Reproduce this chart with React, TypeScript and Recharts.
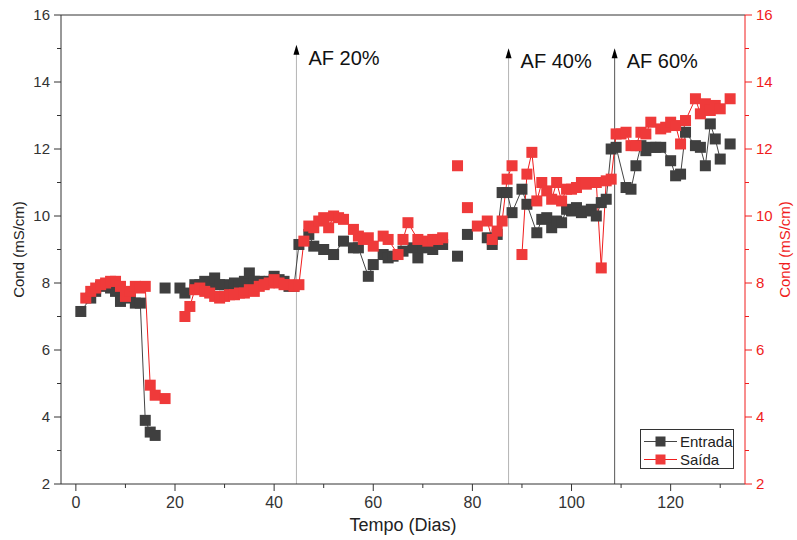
import React from "react";
import { ComposedChart, Line, XAxis, YAxis, ReferenceLine } from "recharts";

// dias de medição e condutividade (mS/cm); null = sem medição (quebra a linha)
const entradaDia = [1, 3, 4, 5, 6, 7, 8, 9, 10, 11, 12, 13, 14, 15, 16, 17, 18, 19, 21, 22, 24, 25, 26, 27, 28, 29, 30, 31, 32, 33, 34, 35, 36, 37, 38, 39, 40, 41, 42, 43, 44, 45, 47, 48, 50, 52, 54, 56, 57, 59, 60, 62, 63, 64, 66, 68, 69, 70, 72, 74, 75, 77, 78, 79, 80, 83, 84, 85, 86, 87, 88, 90, 91, 93, 94, 95, 96, 97, 98, 99, 100, 101, 102, 103, 104, 105, 106, 107, 108, 109, 111, 112, 113, 114, 115, 116, 117, 118, 120, 121, 122, 123, 125, 126, 127, 128, 129, 130, 131, 132];
const entradaCond = [7.15, 7.55, 7.75, 7.9, 7.95, 7.85, 7.75, 7.45, 7.6, 7.55, 7.4, 7.4, 3.9, 3.55, 3.45, null, 7.85, null, 7.85, 7.7, 7.95, 7.95, 8.05, 8.0, 8.15, 7.95, 7.95, 7.9, 8.0, 7.95, 8.05, 8.3, 8.05, 8.05, 8.0, 8.05, 8.2, 8.1, 8.05, 7.9, 7.9, 9.15, 9.45, 9.1, 9.0, 8.85, 9.25, 9.05, 9.05, 8.2, 8.55, 8.85, 8.75, 8.8, 8.95, 9.05, 8.75, 9.05, 9.0, 9.15, null, 8.8, null, 9.45, null, 9.35, 9.15, 9.45, 10.7, 10.7, 10.1, 10.8, 10.35, 9.5, 9.9, 9.95, 9.65, 9.85, 9.8, 10.2, 10.15, 10.25, 10.1, 10.15, 10.2, 10.0, 10.4, 10.5, 12.0, 12.05, 10.85, 10.8, 11.5, 12.1, 11.95, 12.05, 12.05, 12.05, 11.65, 11.2, 11.25, 12.5, 12.1, 12.05, 11.5, 12.75, 12.3, 11.7, null, 12.15];

const saidaDia = [2, 3, 4, 5, 6, 7, 8, 9, 10, 11, 12, 13, 14, 15, 16, 17, 18, 19, 22, 23, 24, 25, 26, 27, 28, 29, 30, 31, 32, 33, 34, 35, 36, 37, 38, 39, 40, 41, 42, 43, 44, 45, 46, 47, 48, 49, 50, 51, 52, 53, 54, 56, 57, 58, 59, 60, 62, 63, 65, 66, 67, 69, 71, 72, 73, 74, 75, 77, 78, 79, 80, 81, 83, 84, 85, 86, 87, 88, 89, 90, 91, 92, 93, 94, 95, 96, 97, 98, 99, 100, 101, 102, 103, 104, 105, 106, 107, 108, 109, 110, 111, 112, 113, 114, 115, 116, 118, 119, 120, 121, 122, 123, 125, 126, 127, 128, 129, 130, 131, 132];
const saidaCond = [7.55, 7.75, 7.85, 7.95, 8.0, 8.05, 8.05, 7.9, 7.6, 7.75, 7.9, 7.85, 7.9, 4.95, 4.65, null, 4.55, null, 7.0, 7.3, 7.8, 7.85, 7.75, 7.7, 7.6, 7.55, 7.6, 7.65, 7.65, 7.7, 7.7, 7.8, 7.75, 7.9, 7.95, 8.0, 8.1, 8.0, 7.95, 7.95, 7.9, 7.95, 9.25, 9.7, 9.65, 9.85, 9.95, 9.65, 10.0, 9.95, 9.9, 9.6, 9.4, 9.3, 9.35, 9.1, 9.4, 9.3, 8.85, 9.3, 9.8, 9.3, 9.25, 9.3, 9.3, 9.35, null, 11.5, null, 10.25, null, 9.7, 9.85, 9.3, 9.55, 9.85, 11.1, 11.5, null, 8.85, 11.25, 11.9, 10.45, 11.0, 10.75, 10.5, 11.0, 10.45, 10.8, 10.8, 10.85, 11.0, 10.95, 11.0, 11.0, 8.45, 11.05, 11.1, 12.45, 12.45, 12.5, 12.1, 12.1, 12.5, 12.45, 12.8, 12.6, 12.65, 12.8, 12.7, 12.15, 12.85, 13.5, 13.05, 13.35, 13.15, 13.3, 13.2, null, 13.5];

const xTicks = [0, 10, 20, 30, 40, 50, 60, 70, 80, 90, 100, 110, 120, 130];
const yTicks = [2, 3, 4, 5, 6, 7, 8, 9, 10, 11, 12, 13, 14, 15, 16];

const marcoDias = [44.5, 87.3, 108.7];
const marcoTextos = ["AF 20%", "AF 40%", "AF 60%"];

const entradaData = entradaDia.map((d, i) => ({ dia: d, cond: entradaCond[i] }));
const saidaData = saidaDia.map((d, i) => ({ dia: d, cond: saidaCond[i] }));

const FONT = "'Liberation Sans', Arial, sans-serif";
const RED = "#f01c1c";
const GRAY_MARK = "#3f3f3f";
const RED_MARK = "#ef3a3a";

const quadrado = (cor: string) => (props: any) => {
  const { cx, cy, payload, index } = props;
  if (cx == null || cy == null || payload == null || payload.cond == null) return <g key={index} />;
  return <rect key={index} x={cx - 5.5} y={cy - 5.5} width={11} height={11} fill={cor} />;
};

const BottomTick = (props: any) => {
  const { x, y, payload } = props;
  const major = payload.value % 20 === 0;
  return (
    <g>
      <line x1={x} y1={y} x2={x} y2={y + (major ? 7 : 4)} stroke="#333" />
      {major && (
        <text x={x} y={y + 13} dy="0.71em" textAnchor="middle" fontSize={16} fill="#333" fontFamily={FONT}>
          {payload.value}
        </text>
      )}
    </g>
  );
};

const TopTick = (props: any) => {
  const { x, y, payload } = props;
  const major = payload.value % 20 === 0;
  return <line x1={x} y1={y} x2={x} y2={y + (major ? 7 : 4)} stroke="#333" />;
};

const LeftTick = (props: any) => {
  const { x, y, payload } = props;
  const major = payload.value % 2 === 0;
  return (
    <g>
      <line x1={x} y1={y} x2={x - (major ? 7 : 4)} y2={y} stroke="#333" />
      {major && (
        <text x={x - 11} y={y} dy="0.35em" textAnchor="end" fontSize={15} fill="#333" fontFamily={FONT}>
          {payload.value}
        </text>
      )}
    </g>
  );
};

const RightTick = (props: any) => {
  const { x, y, payload } = props;
  const major = payload.value % 2 === 0;
  return (
    <g>
      <line x1={x} y1={y} x2={x + (major ? 7 : 4)} y2={y} stroke={RED} />
      {major && (
        <text x={x + 11} y={y} dy="0.35em" textAnchor="start" fontSize={15} fill={RED} fontFamily={FONT}>
          {payload.value}
        </text>
      )}
    </g>
  );
};

const yTitle = (x: number, cor: string) => (props: any) => {
  const vb = props.viewBox;
  const cy = vb.y + vb.height / 2;
  return (
    <text x={x} y={cy} transform={`rotate(-90 ${x} ${cy})`} textAnchor="middle" dy="0.35em" fontSize={15} fill={cor} fontFamily={FONT}>
      Cond (mS/cm)
    </text>
  );
};

const xTitle = (props: any) => {
  const vb = props.viewBox;
  return (
    <text x={vb.x + vb.width / 2} y={525} dy="0.35em" textAnchor="middle" fontSize={18} fill="#222" fontFamily={FONT}>
      Tempo (Dias)
    </text>
  );
};

const marco = (texto: string, cor: string) => (props: any) => {
  const { x1, y1, x2, y2 } = props;
  const top = Math.min(y1, y2);
  const bottom = Math.max(y1, y2);
  return (
    <g>
      <line x1={x1} y1={bottom} x2={x2} y2={top + 6} stroke={cor} strokeWidth={1} />
      <polygon points={`${x1 - 3},${top + 8} ${x1 + 3},${top + 8} ${x1},${top - 2}`} fill="#000" />
      <text x={x1 + 12} y={top + 11} dy="0.35em" fontSize={20} fill="#111" fontFamily={FONT}>
        {texto}
      </text>
    </g>
  );
};

const marcoCores = ["#b4b4b4", "#b4b4b4", "#555555"];

export default function App() {
  return (
    <div style={{ position: "absolute", left: 0, top: 0, width: 797, height: 540, background: "#fff" }}>
      <ComposedChart width={797} height={540} margin={{ top: 0, right: 0, bottom: 0, left: 0 }}>
        <XAxis
          dataKey="dia"
          type="number"
          domain={[-3, 135]}
          ticks={xTicks}
          interval={0}
          allowDataOverflow
          height={56}
          tickSize={0}
          tickMargin={0}
          tickLine={false}
          tick={<BottomTick />}
          axisLine={{ stroke: "#333" }}
          label={{ content: xTitle }}
        />
        <XAxis
          xAxisId="top"
          orientation="top"
          type="number"
          domain={[-3, 135]}
          ticks={xTicks}
          interval={0}
          allowDataOverflow
          height={15}
          tickSize={0}
          tickMargin={0}
          tickLine={false}
          tick={<TopTick />}
          axisLine={{ stroke: "#333" }}
        />
        <YAxis
          yAxisId="left"
          type="number"
          domain={[2, 16]}
          ticks={yTicks}
          interval={0}
          width={61}
          tickSize={0}
          tickMargin={0}
          tickLine={false}
          tick={<LeftTick />}
          axisLine={{ stroke: "#333" }}
          label={{ content: yTitle(19, "#222") }}
        />
        <YAxis
          yAxisId="right"
          orientation="right"
          type="number"
          domain={[2, 16]}
          ticks={yTicks}
          interval={0}
          width={52}
          tickSize={0}
          tickMargin={0}
          tickLine={false}
          tick={<RightTick />}
          axisLine={{ stroke: RED }}
          label={{ content: yTitle(785, RED) }}
        />
        {marcoDias.map((d, i) => (
          <ReferenceLine
            key={`m-${i}`}
            yAxisId="left"
            segment={[{ x: d, y: 2 }, { x: d, y: i === 0 ? 15.05 : 14.95 }]}
            shape={marco(marcoTextos[i], marcoCores[i])}
          />
        ))}
        <Line
          yAxisId="left"
          data={entradaData}
          dataKey="cond"
          name="Entrada"
          stroke="#444"
          strokeWidth={1}
          dot={quadrado(GRAY_MARK)}
          activeDot={false}
          connectNulls={false}
          isAnimationActive={false}
        />
        <Line
          yAxisId="right"
          data={saidaData}
          dataKey="cond"
          name="Saída"
          stroke={RED}
          strokeWidth={1}
          dot={quadrado(RED_MARK)}
          activeDot={false}
          connectNulls={false}
          isAnimationActive={false}
        />
      </ComposedChart>
      <div
        style={{
          position: "absolute",
          left: 640,
          top: 429,
          width: 94,
          height: 40,
          border: "1px solid #333",
          background: "#fff",
          fontFamily: FONT,
          fontSize: 15,
          color: "#222",
          boxSizing: "border-box",
        }}
      >
        {[
          { nome: "Entrada", linha: "#444", marca: GRAY_MARK },
          { nome: "Saída", linha: RED, marca: RED_MARK },
        ].map((s, i) => (
          <div key={s.nome} style={{ position: "absolute", left: 0, top: 3 + i * 18, height: 17, display: "flex", alignItems: "center" }}>
            <svg width={38} height={17} style={{ display: "block" }}>
              <line x1={3} y1={8.5} x2={36} y2={8.5} stroke={s.linha} />
              <rect x={14.5} y={3.5} width={10} height={10} fill={s.marca} />
            </svg>
            <span style={{ marginLeft: 1, lineHeight: "17px" }}>{s.nome}</span>
          </div>
        ))}
      </div>
    </div>
  );
}
